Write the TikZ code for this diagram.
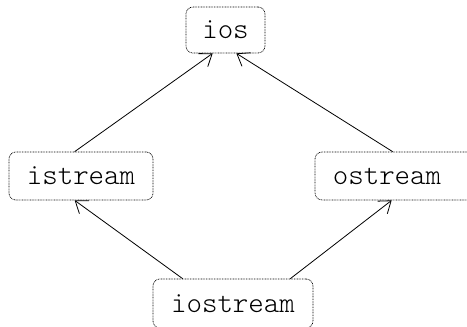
\documentclass[tikz,border=0pt]{standalone}
\usetikzlibrary{arrows.meta}
\begin{document}
\begin{tikzpicture}[x=1pt,y=-1pt,
  cls/.style={draw, dash pattern=on 0.8pt off 0.8pt, line width=0.7pt, rounded corners=7pt,
    inner sep=0pt, font=\ttfamily\fontseries{l}\fontsize{29.5}{32}\selectfont},
  arr/.style={line width=0.8pt, -{Straight Barb[length=11pt,width=16pt]}}]
\useasboundingbox[clip] (0,0) rectangle (467,327);
\node[cls, minimum width=79pt, minimum height=46pt] (ios) at (225.5,30) {ios};
\node[cls, minimum width=144pt, minimum height=48pt] (istream) at (81,176) {istream};
\node[cls, minimum width=164pt, minimum height=48pt] (ostream) at (397,176) {ostream\rule{20pt}{0pt}};
\node[cls, minimum width=160pt, minimum height=49pt] (iostream) at (233,303.5) {iostream};
\draw[arr] ([xshift=30pt]iostream.north west) -- ([xshift=66pt]istream.south west);
\draw[arr] ([xshift=-23pt]iostream.north east) -- ([xshift=77pt]ostream.south west);
\draw[arr] ([xshift=66pt]istream.north west) -- ([xshift=27pt]ios.south west);
\draw[arr] ([xshift=78pt]ostream.north west) -- ([xshift=-29pt]ios.south east);
\end{tikzpicture}
\end{document}
